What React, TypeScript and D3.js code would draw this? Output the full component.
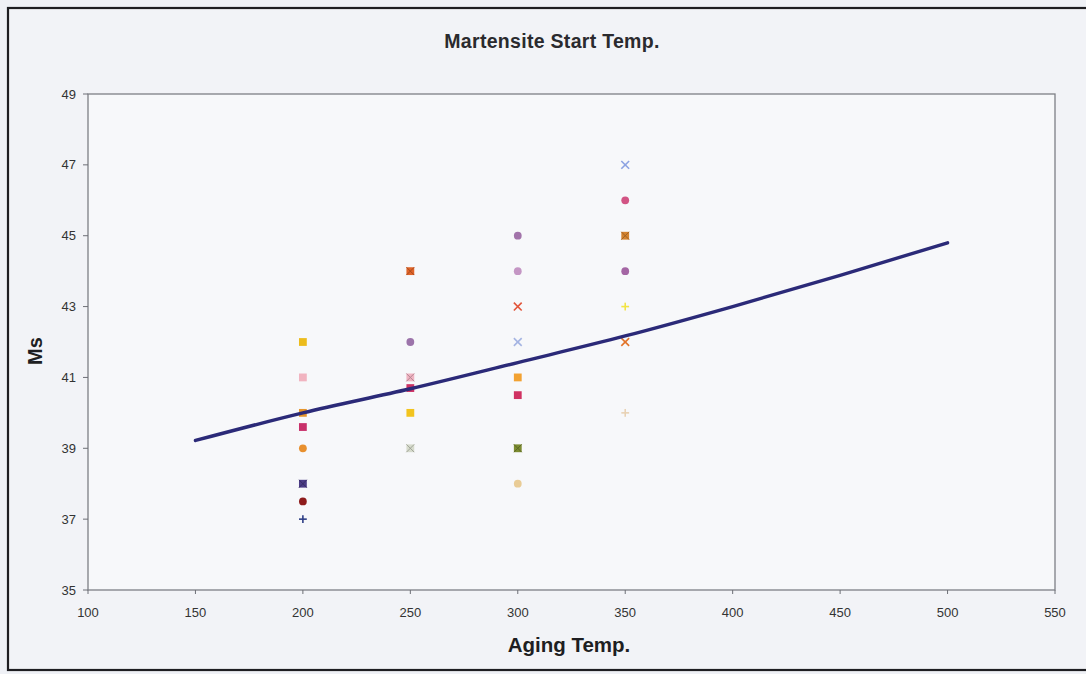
import React from "react";
import * as d3 from "d3";

// Observed martensite start temperatures grouped by aging temperature
type Marker = "square" | "circle" | "x" | "plus" | "squareX";

const agingTemps = [200, 250, 300, 350];

const ms200 = [42, 41, 40, 39.6, 39, 38, 37.5, 37];
const ms250 = [44, 42, 41, 40.7, 40, 39];
const ms300 = [45, 44, 43, 42, 41, 40.5, 39, 38];
const ms350 = [47, 46, 45, 44, 43, 42, 40];

const colors200 = ["#ecbc1c", "#f1b4c0", "#e5952c", "#c8306a", "#e8902e", "#4b3c86", "#8e1c1c", "#2e3f86"];
const colors250 = ["#e06428", "#9c74aa", "#f0b4c2", "#cc3264", "#f2c41e", "#d6dbcc"];
const colors300 = ["#a274aa", "#c496c4", "#e2553a", "#a4b4e2", "#f2a232", "#d03262", "#7c8c30", "#e9cc96"];
const colors350 = ["#8ca2e2", "#d25484", "#d4822e", "#a466a4", "#f2e444", "#e2742a", "#e8d2b4"];

const shapes200: Marker[] = ["square", "square", "square", "square", "circle", "squareX", "circle", "plus"];
const shapes250: Marker[] = ["squareX", "circle", "squareX", "square", "square", "squareX"];
const shapes300: Marker[] = ["circle", "circle", "x", "x", "square", "square", "squareX", "circle"];
const shapes350: Marker[] = ["x", "circle", "squareX", "circle", "plus", "x", "plus"];

// Trendline values along the aging temperature axis
const trendTemps = [150, 200, 250, 300, 350, 400, 450, 500];
const trendMs = [39.22, 40.0, 40.68, 41.42, 42.17, 43.0, 43.88, 44.8];

const xTicks = [100, 150, 200, 250, 300, 350, 400, 450, 500, 550];
const yTicks = [35, 37, 39, 41, 43, 45, 47, 49];

const W = 1086;
const H = 674;
const plot = { left: 88, top: 94, right: 1055, bottom: 590 };

const font = "'Liberation Sans', Arial, sans-serif";

function MarkerShape({ x, y, shape, color }: { x: number; y: number; shape: Marker; color: string }) {
  const s = 3.9;
  const dark = d3.color(color)!.darker(0.8).formatHex();
  switch (shape) {
    case "square":
      return <rect x={x - s} y={y - s} width={2 * s} height={2 * s} fill={color} />;
    case "circle":
      return <circle cx={x} cy={y} r={s} fill={color} />;
    case "x":
      return (
        <g stroke={color} strokeWidth={1.6}>
          <line x1={x - s} y1={y - s} x2={x + s} y2={y + s} />
          <line x1={x - s} y1={y + s} x2={x + s} y2={y - s} />
        </g>
      );
    case "plus":
      return (
        <g stroke={color} strokeWidth={1.6}>
          <line x1={x - s} y1={y} x2={x + s} y2={y} />
          <line x1={x} y1={y - s} x2={x} y2={y + s} />
        </g>
      );
    case "squareX":
      return (
        <g>
          <rect x={x - s} y={y - s} width={2 * s} height={2 * s} fill={color} />
          <g stroke={dark} strokeWidth={1}>
            <line x1={x - s} y1={y - s} x2={x + s} y2={y + s} />
            <line x1={x - s} y1={y + s} x2={x + s} y2={y - s} />
          </g>
        </g>
      );
  }
}

export default function App() {
  const x = d3.scaleLinear().domain([100, 550]).range([plot.left, plot.right]);
  const y = d3.scaleLinear().domain([35, 49]).range([plot.bottom, plot.top]);

  const groups = [
    { t: agingTemps[0], ms: ms200, c: colors200, s: shapes200 },
    { t: agingTemps[1], ms: ms250, c: colors250, s: shapes250 },
    { t: agingTemps[2], ms: ms300, c: colors300, s: shapes300 },
    { t: agingTemps[3], ms: ms350, c: colors350, s: shapes350 },
  ];

  const trendLine = d3
    .line<number>()
    .x((_, i) => x(trendTemps[i]))
    .y((d) => y(d))
    .curve(d3.curveMonotoneX)(trendMs)!;

  return (
    <svg
      width={W}
      height={H}
      style={{ position: "absolute", left: 0, top: 0, display: "block" }}
      fontFamily={font}
    >
      <rect x={0} y={0} width={W} height={H} fill="#eff1f6" />
      <rect x={8} y={8} width={1090} height={662} fill="#f2f3f7" stroke="#1e1e22" strokeWidth={2.2} />

      {/* plot area */}
      <rect
        x={plot.left}
        y={plot.top}
        width={plot.right - plot.left}
        height={plot.bottom - plot.top}
        fill="#f7f8fa"
        stroke="#7d7f86"
        strokeWidth={1.3}
      />

      {/* title */}
      <text x={552} y={48} textAnchor="middle" fontSize={19.5} fontWeight="bold" fill="#2a2a2e" letterSpacing={0.3}>
        Martensite Start Temp.
      </text>

      {/* y axis */}
      {yTicks.map((t) => (
        <g key={`y${t}`}>
          <line x1={plot.left - 5} x2={plot.left} y1={y(t)} y2={y(t)} stroke="#6d6f76" strokeWidth={1} />
          <text x={plot.left - 12} y={y(t) + 4.5} textAnchor="end" fontSize={13} fill="#333">
            {t}
          </text>
        </g>
      ))}
      <text
        transform={`translate(42, ${351}) rotate(-90)`}
        textAnchor="middle"
        fontSize={20}
        fontWeight="bold"
        fill="#1e1e22"
      >
        Ms
      </text>

      {/* x axis */}
      {xTicks.map((t) => (
        <g key={`x${t}`}>
          <line x1={x(t)} x2={x(t)} y1={plot.bottom} y2={plot.bottom + 4} stroke="#6d6f76" strokeWidth={1} />
          <text x={x(t)} y={plot.bottom + 27} textAnchor="middle" fontSize={13} fill="#333">
            {t}
          </text>
        </g>
      ))}
      <text x={569} y={652} textAnchor="middle" fontSize={20.5} fontWeight="bold" fill="#1e1e22">
        Aging Temp.
      </text>

      {/* observations */}
      {groups.map((g) =>
        g.ms.map((v, i) => (
          <MarkerShape key={`${g.t}-${i}`} x={x(g.t)} y={y(v)} shape={g.s[i]} color={g.c[i]} />
        ))
      )}

      {/* trendline */}
      <path d={trendLine} fill="none" stroke="#2b2a78" strokeWidth={3.4} strokeLinecap="round" />
    </svg>
  );
}
